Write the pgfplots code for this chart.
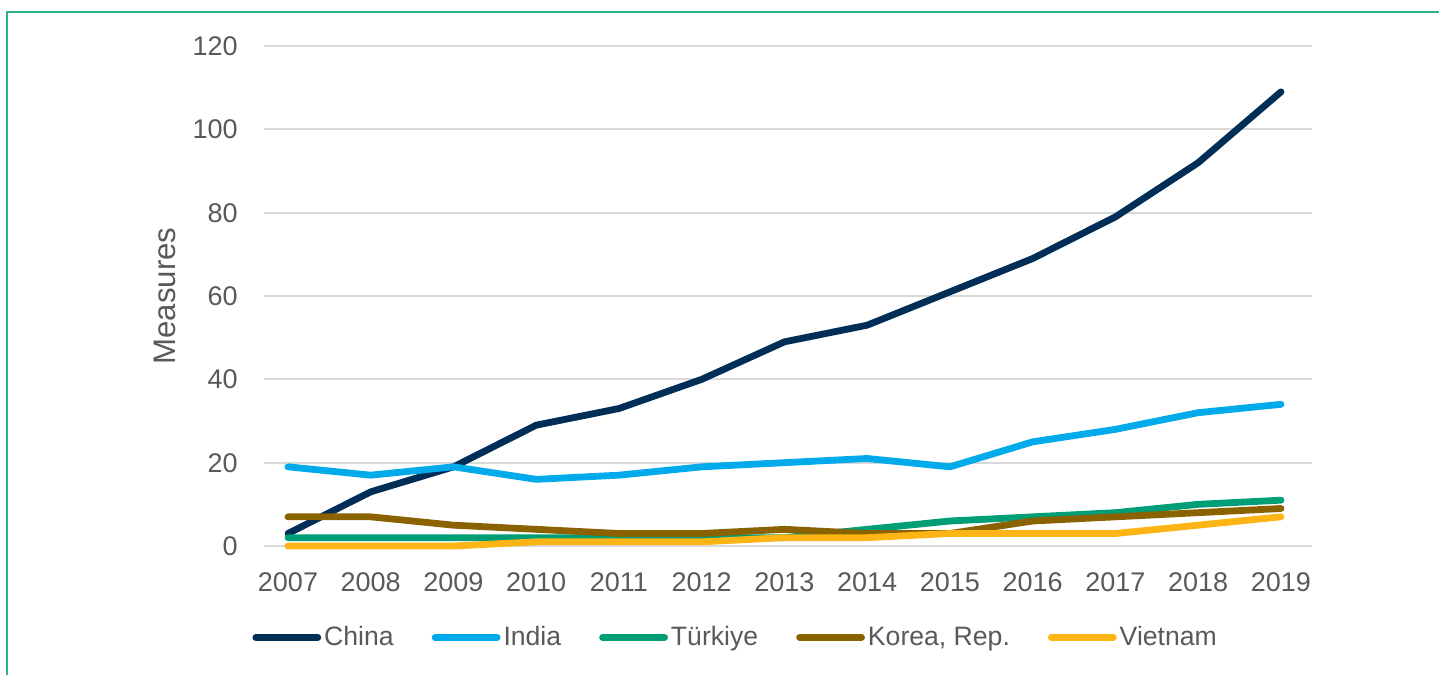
\documentclass[border=0pt]{standalone}
\usepackage{fontspec}
\setmainfont{Liberation Sans}
\usepackage{pgfplots}
\pgfplotsset{compat=1.18}
\definecolor{txt}{HTML}{595959}
\definecolor{gridc}{HTML}{D9D9D9}
\definecolor{framec}{HTML}{2BB38A}
\definecolor{cChina}{HTML}{002E57}
\definecolor{cIndia}{HTML}{00AAEB}
\definecolor{cTurk}{HTML}{009E77}
\definecolor{cKorea}{HTML}{8A6200}
\definecolor{cViet}{HTML}{FDB515}
\begin{document}
\begin{tikzpicture}[x=1pt,y=1pt]
\useasboundingbox (0,0) rectangle (719.5,337.5);
\draw[framec, line width=1pt] (3.5,0) -- (3.5,331.5) -- (719.5,331.5);
\begin{axis}[
  at={(132pt,64.5pt)}, anchor=south west,
  scale only axis, width=524pt, height=250pt,
  xmin=2006.71, xmax=2019.375, ymin=0, ymax=120,
  xtick={2007,2008,...,2019}, ytick={0,20,...,120},
  /pgf/number format/assume math mode=true,
  /pgf/number format/set thousands separator={},
  axis line style={draw=none},
  major tick length=0pt,
  ymajorgrids, grid style={gridc, line width=1pt},
  clip=false,
  font=\fontsize{13.5}{16}\selectfont,
  ticklabel style={text=txt, inner sep=0pt},
  xticklabel style={anchor=base, yshift=-22.5pt},
  yticklabel style={anchor=base east, xshift=-13pt, yshift=-4.8pt},
  every axis y label/.style={at={(axis description cs:-0.0945,0.5)}, rotate=90, anchor=center, font=\fontsize{15.6}{18}\selectfont, text=txt},
  ylabel={Measures},
  legend style={at={(axis description cs:0.4505,-0.183)}, anchor=center, draw=none, fill=none,
    legend columns=-1, font=\fontsize{13.3}{16}\selectfont, text=txt,
    /tikz/every even column/.append style={column sep=17.5pt},
    nodes={inner sep=1.5pt}},
  legend image code/.code={\draw[#1, line cap=round] (0pt,0pt) -- (31pt,0pt);},
  every axis plot/.append style={line width=3.4pt, line cap=round, line join=round},
]
\addplot[cChina] coordinates {(2007,3)(2008,13)(2009,19)(2010,29)(2011,33)(2012,40)(2013,49)(2014,53)(2015,61)(2016,69)(2017,79)(2018,92)(2019,109)};
\addlegendentry{China}
\addplot[cIndia] coordinates {(2007,19)(2008,17)(2009,19)(2010,16)(2011,17)(2012,19)(2013,20)(2014,21)(2015,19)(2016,25)(2017,28)(2018,32)(2019,34)};
\addlegendentry{India}
\addplot[cTurk] coordinates {(2007,2)(2008,2)(2009,2)(2010,2)(2011,2)(2012,2)(2013,2)(2014,4)(2015,6)(2016,7)(2017,8)(2018,10)(2019,11)};
\addlegendentry{Türkiye}
\addplot[cKorea] coordinates {(2007,7)(2008,7)(2009,5)(2010,4)(2011,3)(2012,3)(2013,4)(2014,3)(2015,3)(2016,6)(2017,7)(2018,8)(2019,9)};
\addlegendentry{Korea, Rep.}
\addplot[cViet] coordinates {(2007,0)(2008,0)(2009,0)(2010,1)(2011,1)(2012,1)(2013,2)(2014,2)(2015,3)(2016,3)(2017,3)(2018,5)(2019,7)};
\addlegendentry{Vietnam}
\end{axis}
\end{tikzpicture}
\end{document}
